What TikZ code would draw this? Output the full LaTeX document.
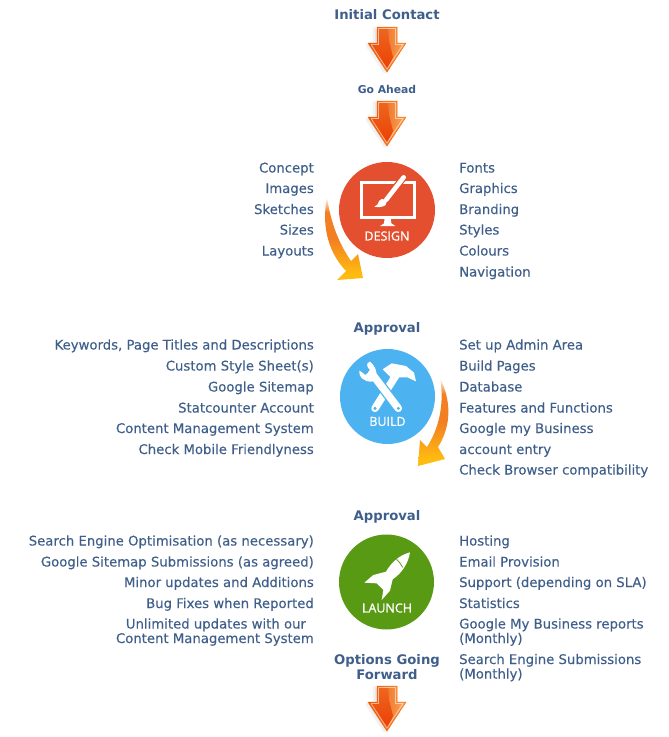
\documentclass[tikz,border=0pt]{standalone}
\usepackage{fontspec}
\setmainfont{DejaVu Sans}
\newfontfamily\labfont[FakeBold=.25]{DejaVu Sans}
\newfontfamily\iconfont[FakeBold=1]{Open Sans}
\usetikzlibrary{calc}
\definecolor{txtblue}{HTML}{3F5F8A}
\definecolor{designred}{HTML}{E4502F}
\definecolor{buildblue}{HTML}{4DB3F0}
\definecolor{launchgreen}{HTML}{599A14}
\definecolor{arrowdark}{HTML}{E84A05}
\definecolor{arrowlight}{HTML}{F9A85A}
\definecolor{curveorange}{HTML}{F27F22}
\definecolor{curveyellow}{HTML}{FFBB10}
\pgfdeclareverticalshading{curvefade}{100bp}{
  color(0bp)=(curveyellow);
  color(29bp)=(curveyellow);
  color(50bp)=(curveorange);
  color(66bp)=(curveorange);
  color(75bp)=(white);
  color(100bp)=(white)}
\tikzset{
  leftlab/.style={anchor=base east,yshift=-4.5pt,text=txtblue,font=\labfont\fontsize{13.25}{15}\selectfont,inner sep=0pt},
  rightlab/.style={anchor=base west,yshift=-4.5pt,text=txtblue,font=\labfont\fontsize{13.25}{15}\selectfont,inner sep=0pt},
  headlab/.style={text=txtblue,font=\fontsize{13.2}{15}\selectfont\bfseries,inner sep=0pt,align=center},
  badge/.style={circle,minimum size=95pt,inner sep=0pt},
  badgelab/.style={text=white,font=\iconfont\fontsize{12.5}{14}\selectfont,inner sep=0pt},
}
% block arrow pointing down, tip at y+46
\newcommand{\flowarrow}[2]{
  \begin{scope}[shift={(#1,#2)}]
  \fill[black,opacity=.05,line join=round,draw=black,line width=5pt](-12,2)--(-12,18)--(-19,18)--(-2,44)--(3,30)--(-8,2)--cycle;
  \shade[left color=arrowdark,right color=arrowlight,draw=orange!80!red,line width=.5pt,line join=round]
    (-10,0)--(10,0)--(10,16)--(19,16)--(0,45)--(-19,16)--(-10,16)--cycle;
  \shade[top color=arrowdark!70!arrowlight,bottom color=arrowdark!85!red]
    (-8,2)--(1,2)--(2,14)--(6,30)--(0,42)--(-15,18)--(-8,18)--cycle;
  \draw[white,opacity=.55,line width=.8pt,line join=round]
    (-8.5,1.5)--(8.5,1.5)--(8.5,17.5)--(16,17.5)--(0,42)--(-16,17.5)--(-8.5,17.5)--cycle;
  \end{scope}
}
\begin{document}
\begin{tikzpicture}[x=1pt,y=-1pt]
\useasboundingbox(0,0)rectangle(669,737);
%headings
\node[headlab](contact)at(387,14.5){Initial Contact};
\node[headlab,font=\fontsize{10.8}{12}\selectfont\bfseries](ahead)at(387,89.5){Go Ahead};
\node[headlab](approvalone)at(387,329){Approval};
\node[headlab](approvaltwo)at(387,517){Approval};
\node[headlab](options)at(387,667){Options Going\\Forward};
%block arrows
\flowarrow{387}{27}
\flowarrow{387}{101}
\flowarrow{387}{686}
%curved arrows
\shade[shading=curvefade]
  (327,197)..controls(322,222)and(326,250)..(346,271)--(337,280)--(363,278)--(358,254)--(351,261)..controls(340,245)and(331,225)..(327,197)--cycle;
\shade[shading=curvefade]
  (440,378)..controls(451,400)and(452,425)..(438,447)--(445,459)--(418,466)--(420,440)--(427,447)..controls(438,430)and(445,405)..(440,378)--cycle;
%badges
\node[badge,fill=designred,minimum size=96pt](design)at(387,210){};
\node[badge,fill=buildblue](build)at(387.5,396.5){};
\node[badge,fill=launchgreen](launch)at(386.5,582){};
\node[badgelab](designlab)at(387,236){DESIGN};
\node[badgelab](buildlab)at(387.5,421.5){BUILD};
\node[badgelab](launchlab)at(387,608){LAUNCH};
%monitor and brush
\begin{scope}[shift={(310,150)},scale=1/3]
\draw[white,line width=3pt](155,98)rectangle(314,203);
\fill[white](224,203)--(242,203)--(244,220)--(256,228)--(210,228)--(222,220)--cycle;
\draw[designred,line width=7pt,line cap=round](281,82)--(228,150);
\draw[white,line width=4.6pt,line cap=round](281,82)--(228,150);
\fill[white](222,148)..controls(230,155)and(232,162)..(226,166)..controls(215,172)and(205,172)..(193,170)..controls(203,165)and(205,160)..(208,152)..controls(212,147)and(218,146)..(222,148)--cycle;
\end{scope}
%wrench and hammer
\begin{scope}[shift={(330,340)},scale=1/3]
\draw[white,line width=7.5pt,line cap=round](135,205)--(205,95);
\fill[white](158,88)--(185,70)--(228,78)--(252,98)--(258,124)--(232,112)--(207,112)--(190,120)--cycle;
\draw[buildblue,line width=10pt](205,205)--(125,100);
\draw[white,line width=7.5pt,line cap=round](205,205)--(125,100);
\fill[white](120,65)..controls(105,68)and(112,85)..(122,92)--(106,105)..controls(98,100)and(92,92)..(88,92)..controls(85,110)and(100,125)..(125,125)..controls(145,120)and(145,85)..(120,65)--cycle;
\fill[buildblue](135,205)circle(5);
\fill[buildblue](205,205)circle(5);
\end{scope}
%rocket
\begin{scope}[shift={(330,530)},scale=1/3]
\fill[white](240,67)..controls(210,75)and(185,95)..(168,125)--(130,135)--(103,158)--(140,160)--(160,180)--(155,210)--(180,182)--(188,148)..controls(215,130)and(235,100)..(240,67)--cycle;
\draw[launchgreen,line width=.8pt](200,88)..controls(207,95)and(213,102)..(218,112);
\end{scope}
%design lists
\foreach \y/\t [count=\i] in {168/Concept,188.5/Images,209.5/Sketches,230/Sizes,251/Layouts}{
\node[leftlab](dl\i)at(314,\y){\t};
}
\foreach \y/\t [count=\i] in {168/Fonts,188.5/Graphics,209.5/Branding,230/Styles,251/Colours,272/Navigation}{
\node[rightlab](dr\i)at(459,\y){\t};
}
%build lists
\foreach \y/\t [count=\i] in {345/{Keywords, Page Titles and Descriptions},366/Custom Style Sheet(s),387/Google Sitemap,408/Statcounter Account,428.5/Content Management System,449.5/Check Mobile Friendlyness}{
\node[leftlab](bl\i)at(314,\y){\t};
}
\foreach \y/\t [count=\i] in {345/Set up Admin Area,366/Build Pages,387/Database,408/Features and Functions,428.5/Google my Business,449.5/account entry,470/Check Browser compatibility}{
\node[rightlab](br\i)at(459,\y){\t};
}
%launch lists
\foreach \y/\t [count=\i] in {541/Search Engine Optimisation (as necessary),562/Google Sitemap Submissions (as agreed),582.5/Minor updates and Additions,603.5/Bug Fixes when Reported,624/Unlimited updates with our\phantom{x},638.5/Content Management System}{
\node[leftlab](ll\i)at(314,\y){\t};
}
\foreach \y/\t [count=\i] in {541/Hosting,562/Email Provision,582.5/Support (depending on SLA),603.5/Statistics,624/Google My Business reports,638.5/(Monthly),659.5/Search Engine Submissions,674/(Monthly)}{
\node[rightlab](lr\i)at(459,\y){\t};
}
\end{tikzpicture}
\end{document}
